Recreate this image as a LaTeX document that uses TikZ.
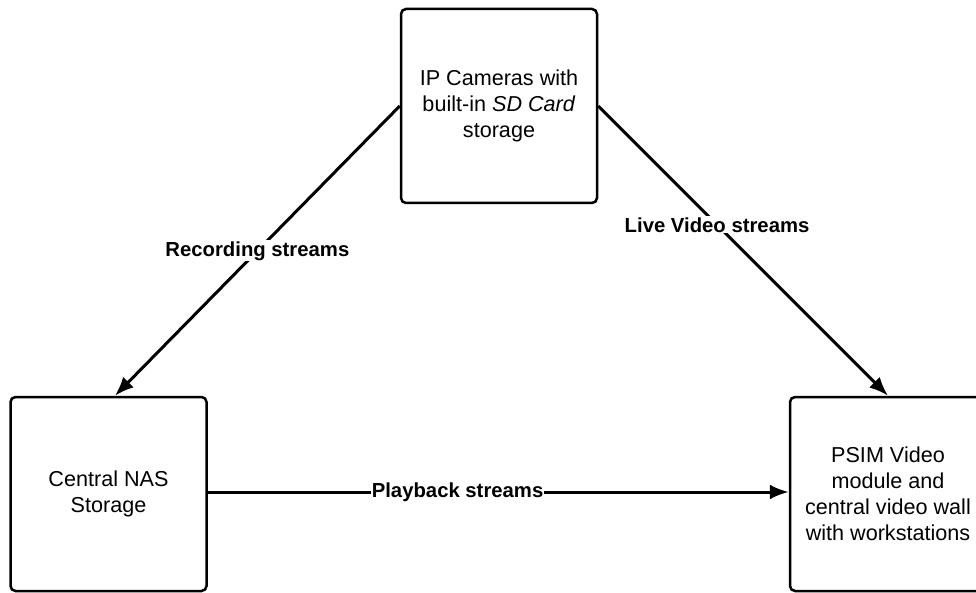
\documentclass[tikz,border=0pt]{standalone}
\usepackage{fontspec}
\setmainfont{Liberation Sans}
\usepackage{tikz}
\usetikzlibrary{arrows.meta}

\tikzset{
  unitbox/.style={draw, line width=2.5pt, rounded corners=5pt, fill=white,
    minimum width=196pt, minimum height=194pt, align=center,
    font=\fontsize{21.6}{26}\selectfont},
  flow/.style={line width=3pt, -{Latex[length=19pt,width=15pt]}},
  flowlabel/.style={fill=white, inner sep=1pt, font=\bfseries\fontsize{20.3}{24}\selectfont}
}

\begin{document}
\begin{tikzpicture}[x=1pt, y=-1pt]
  \useasboundingbox (0,0) rectangle (976,593);
  \clip (0,0) rectangle (976,593);
  % the three parts of the system
  \node[unitbox] (cams) at (499,106) {IP Cameras with\\built-in \textit{SD Card}\\storage};
  \node[unitbox] (nas) at (108.5,494) {Central NAS\\Storage};
  \node[unitbox] (psim) at (888,494) {PSIM Video\\module and\\central video wall\\with workstations};
  % streams between them
  \draw[flow] (cams.west) -- ([xshift=6.5pt]nas.north)
    node[flowlabel, pos=0.5] {Recording streams};
  \draw[flow] (cams.east) -- (psim.north)
    node[flowlabel, pos=0.41] {Live Video streams};
  \draw[flow] ([yshift=2pt]nas.east) -- ([yshift=2pt]psim.west)
    node[flowlabel, pos=0.43] {Playback streams};
\end{tikzpicture}
\end{document}
